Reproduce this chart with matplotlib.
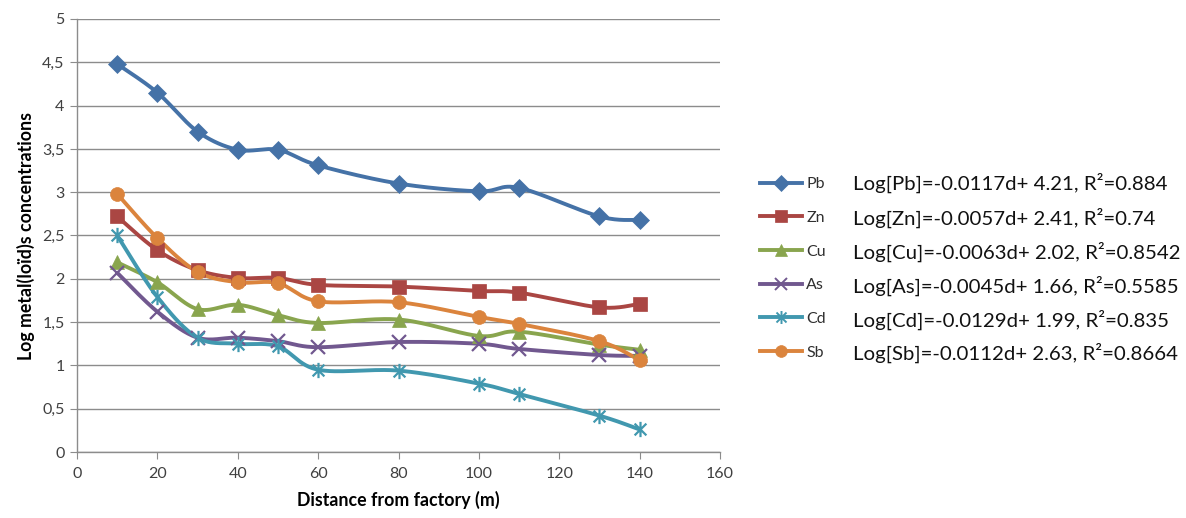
import numpy as np
import matplotlib
matplotlib.use("Agg")
import matplotlib.pyplot as plt
from matplotlib.path import Path
from matplotlib.ticker import FuncFormatter, MultipleLocator

plt.rcParams['font.family'] = ['Lato', 'DejaVu Sans']

distance = [10, 20, 30, 40, 50, 60, 80, 100, 110, 130, 140]
pb = [4.48, 4.15, 3.70, 3.49, 3.49, 3.31, 3.10, 3.01, 3.05, 2.72, 2.68]
zn = [2.72, 2.33, 2.10, 2.01, 2.01, 1.93, 1.91, 1.86, 1.84, 1.67, 1.71]
cu = [2.19, 1.96, 1.65, 1.70, 1.58, 1.49, 1.53, 1.34, 1.39, 1.24, 1.18]
as_ = [2.07, 1.62, 1.32, 1.32, 1.28, 1.21, 1.27, 1.25, 1.19, 1.12, 1.11]
cd = [2.50, 1.79, 1.32, 1.25, 1.22, 0.95, 0.94, 0.79, 0.67, 0.42, 0.26]
sb = [2.98, 2.47, 2.08, 1.96, 1.95, 1.74, 1.73, 1.56, 1.48, 1.28, 1.06]

names = ["Pb", "Zn", "Cu", "As", "Cd", "Sb"]
equations = [
    "Log[Pb]=-0.0117d+ 4.21, R\u00b2=0.884",
    "Log[Zn]=-0.0057d+ 2.41, R\u00b2=0.74",
    "Log[Cu]=-0.0063d+ 2.02, R\u00b2=0.8542",
    "Log[As]=-0.0045d+ 1.66, R\u00b2=0.5585",
    "Log[Cd]=-0.0129d+ 1.99, R\u00b2=0.835",
    "Log[Sb]=-0.0112d+ 2.63, R\u00b2=0.8664",
]
series = [pb, zn, cu, as_, cd, sb]

colors = ["#4572A7", "#AA4643", "#89A54E", "#71588F", "#4198AF", "#DB843D"]
star = Path([(-1, -1), (1, 1), (-1, 1), (1, -1), (0, -1.3), (0, 1.3)],
            [Path.MOVETO, Path.LINETO, Path.MOVETO, Path.LINETO, Path.MOVETO, Path.LINETO])
markers = ["D", "s", "^", "x", star, "o"]
msizes = [9, 10, 10, 10, 11, 10]


def smooth(x, y, n=30):
    x = np.asarray(x, float)
    y = np.asarray(y, float)
    P = np.column_stack([x, y])
    Pe = np.vstack([P[0], P, P[-1]])
    out = []
    for i in range(len(P) - 1):
        p0, p1, p2, p3 = Pe[i], Pe[i + 1], Pe[i + 2], Pe[i + 3]
        c1 = p1 + (p2 - p0) / 6.0
        c2 = p2 - (p3 - p1) / 6.0
        t = np.linspace(0, 1, n)[:, None]
        seg = ((1 - t) ** 3) * p1 + 3 * ((1 - t) ** 2) * t * c1 + 3 * (1 - t) * t ** 2 * c2 + t ** 3 * p2
        out.append(seg if i == 0 else seg[1:])
    s = np.vstack(out)
    return s[:, 0], s[:, 1]


fig = plt.figure(figsize=(11.86, 5.18), dpi=100)
ax = fig.add_axes([77 / 1186, 66 / 518, 643 / 1186, 433 / 518])

handles = []
for ys, c, m, ms, nm in zip(series, colors, markers, msizes, names):
    sx, sy = smooth(distance, ys)
    ax.plot(sx, sy, color=c, lw=2.8, solid_capstyle="round", zorder=2)
    thin = m in ("x",) or m is star
    ax.plot(distance, ys, linestyle="none", marker=m, markersize=ms, color=c,
            markeredgewidth=1.6 if thin else 0.5, markeredgecolor=c, zorder=3)
    h, = ax.plot([], [], color=c, lw=2.8, marker=m, markersize=ms * 0.85,
                 markeredgewidth=1.4 if thin else 0.5, markeredgecolor=c)
    handles.append(h)

ax.set_xlim(0, 160)
ax.set_ylim(0, 5)
ax.xaxis.set_major_locator(MultipleLocator(20))
ax.yaxis.set_major_locator(MultipleLocator(0.5))
fmt = FuncFormatter(lambda v, p: ("%g" % v).replace(".", ","))
ax.xaxis.set_major_formatter(fmt)
ax.yaxis.set_major_formatter(fmt)
ax.grid(axis="y", color="#8c8c8c", lw=1.0)
ax.set_axisbelow(True)
for s in ["top", "right"]:
    ax.spines[s].set_visible(False)
for s in ["left", "bottom"]:
    ax.spines[s].set_color("#8c8c8c")
    ax.spines[s].set_linewidth(1.0)
ax.tick_params(axis="both", direction="out", length=5, color="#8c8c8c",
               labelsize=11.5, labelcolor="#404040")
ax.tick_params(axis="x", pad=6)
ax.tick_params(axis="y", pad=4)
ax.set_xlabel("Distance from factory (m)", fontsize=12.8, fontweight="bold", labelpad=7)
ax.set_ylabel("Log metal(loïd)s concentrations", fontsize=12.8, fontweight="bold", labelpad=5)

leg = fig.legend(handles, names, loc="upper left", bbox_to_anchor=(760 / 1186, 1 - 177 / 518),
                 frameon=False, fontsize=11.5, handlelength=2.6, handletextpad=0.3,
                 labelspacing=1.22, borderpad=0, borderaxespad=0)
for t in leg.get_texts():
    t.set_color("#303030")

row_y = [183, 218, 252, 286, 320, 353]
for eq, yy in zip(equations, row_y):
    fig.text(853 / 1186, 1 - yy / 518, eq, fontsize=14.7, va="center", ha="left", color="#111111")

fig.savefig("out.png", dpi=100)
